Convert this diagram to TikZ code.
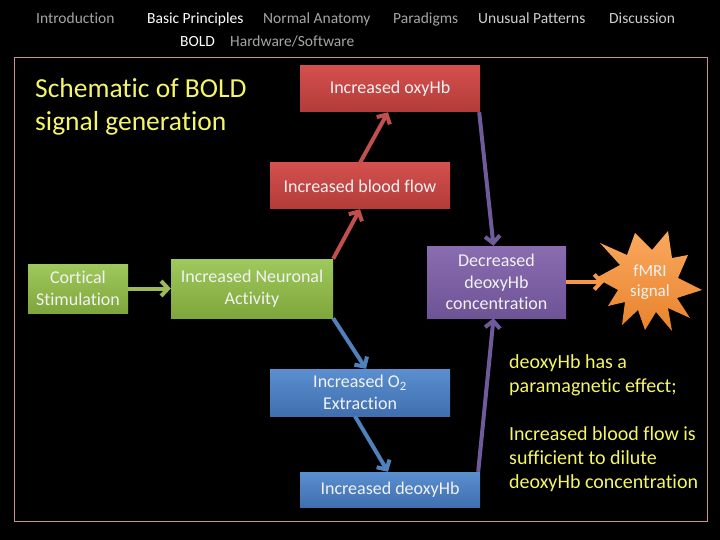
\documentclass[tikz,border=0pt]{standalone}
\usepackage{fontspec}
\setmainfont{Carlito}[Ligatures={NoCommon}]
\usetikzlibrary{arrows.meta,calc}
\definecolor{framecol}{HTML}{C89090}
\definecolor{ttlyellow}{HTML}{F5F56A}
\definecolor{hdrgray}{HTML}{A6A6A6}
\definecolor{hdrlight}{HTML}{CFCFCF}
\definecolor{boxtext}{HTML}{F2F2F2}
\definecolor{gTop}{HTML}{9FC95C}
\definecolor{gBot}{HTML}{7FA63C}
\definecolor{rTop}{HTML}{D4504E}
\definecolor{rBot}{HTML}{B23B39}
\definecolor{bTop}{HTML}{5B8FD0}
\definecolor{bBot}{HTML}{3F6FAE}
\definecolor{pTop}{HTML}{8A6DB0}
\definecolor{pBot}{HTML}{6E5396}
\definecolor{oTop}{HTML}{FAA85E}
\definecolor{oBot}{HTML}{E8832C}
\definecolor{arG}{HTML}{9BBB59}
\definecolor{arR}{HTML}{C0504D}
\definecolor{arB}{HTML}{4F81BD}
\definecolor{arP}{HTML}{6F5A9A}
\definecolor{arO}{HTML}{F79646}
\tikzset{
  stepbox/.style={draw=none, text=boxtext, align=center, inner sep=1pt,
    font=\fontsize{18}{21.5}\selectfont},
  greenbox/.style={stepbox, top color=gTop, bottom color=gBot},
  redbox/.style={stepbox, top color=rTop, bottom color=rBot},
  bluebox/.style={stepbox, top color=bTop, bottom color=bBot},
  purplebox/.style={stepbox, top color=pTop, bottom color=pBot},
  conn/.style={line width=4pt, -{Straight Barb[length=7pt,width=15pt]}},
  hdr/.style={anchor=base west, inner sep=0pt, font=\fontsize{15.5}{18}\selectfont},
  yel/.style={anchor=north west, inner sep=0pt, align=left, text=ttlyellow},
}
\begin{document}
\begin{tikzpicture}[x=1pt,y=-1pt]
\fill[black] (0,0) rectangle (720,540);
\useasboundingbox (0,0) rectangle (720,540);
% header
\node[hdr, text=hdrgray] (h1) at (36,24) {Introduction};
\node[hdr, text=white] (h2) at (147,24) {Basic Principles};
\node[hdr, text=hdrgray] (h3) at (263,24) {Normal Anatomy};
\node[hdr, text=hdrgray] (h4) at (393,24) {Paradigms};
\node[hdr, text=hdrlight] (h5) at (478,24) {Unusual Patterns};
\node[hdr, text=hdrlight] (h6) at (609,24) {Discussion};
\node[hdr, text=white] (h7) at (180,47) {BOLD};
\node[hdr, text=hdrgray] (h8) at (230,47) {Hardware/Software};
% frame
\draw[framecol, line width=1pt] (14,58) rectangle (707,521);
% title
\node[yel, font=\fontsize{27.5}{33}\selectfont] (title) at (35,78) {Schematic of BOLD\\signal generation};
% boxes
\node[greenbox, minimum width=100pt, minimum height=49pt] (cort) at (78,288.5) {Cortical\\Stimulation};
\node[greenbox, minimum width=162pt, minimum height=59pt] (neur) at (252,288.5) {Increased Neuronal\\Activity};
\node[redbox, minimum width=180pt, minimum height=46pt] (oxy) at (390,89) {Increased oxyHb};
\node[redbox, minimum width=180pt, minimum height=46pt] (flow) at (360,186) {Increased blood flow};
\node[purplebox, minimum width=139pt, minimum height=72pt] (dec) at (496.5,282) {Decreased\\deoxyHb\\concentration};
\node[bluebox, minimum width=180pt, minimum height=47pt] (otwo) at (360,392.5) {Increased O\textsubscript{2}\\Extraction};
\node[bluebox, minimum width=180pt, minimum height=35pt] (deoxy) at (390,489.5) {Increased deoxyHb};
% star
\fill[top color=oTop, bottom color=oBot]
  (600,243) -- (627,255) -- (635,233) -- (652,250) -- (668,231) -- (672,258)
  -- (688,255) -- (678,278) -- (702,290) -- (677,298) -- (690,318) -- (668,308)
  -- (672,331) -- (656,312) -- (645,330) -- (638,310) -- (622,325) -- (625,302)
  -- (608,306) -- (618,290) -- (596,278) -- (620,265) -- cycle;
\node[text=boxtext, align=center, inner sep=0pt, font=\fontsize{17}{20}\selectfont] (fmri) at (650,282) {fMRI\\signal};
\coordinate (starL) at (604,282);
% connectors
\draw[conn, arG] (cort.east) -- (neur.west);
\draw[conn, arR] (neur.north east) -- (flow.south);
\draw[conn, arR] (flow.north) -- ([xshift=-2pt]oxy.south);
\draw[conn, arB] (neur.south east) -- ([xshift=6pt]otwo.north);
\draw[conn, arB] ([xshift=-5pt]otwo.south) -- ([xshift=-2pt]deoxy.north);
\draw[conn, arP] ([xshift=-1pt]oxy.south east) -- ([xshift=-3pt]dec.north);
\draw[conn, arP] ([xshift=-2pt]deoxy.north east) -- ([xshift=-3pt]dec.south);
\draw[conn, arO] (dec.east) -- (starL);
% right text
\node[yel, font=\fontsize{20}{24}\selectfont] (note1) at (509,354) {deoxyHb has a\\paramagnetic effect;};
\node[yel, font=\fontsize{20}{24}\selectfont] (note2) at (509,426) {Increased blood flow is\\sufficient to dilute\\deoxyHb concentration};
\end{tikzpicture}
\end{document}
